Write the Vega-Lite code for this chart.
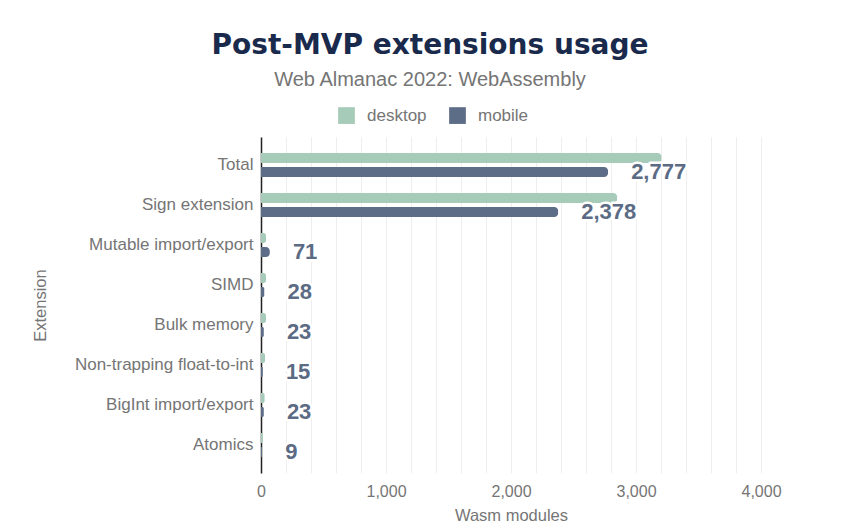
{
  "$schema": "https://vega.github.io/schema/vega-lite/v6.json",
  "width": 500,
  "height": 336,
  "autosize": {"type": "none"},
  "padding": {"left": 261, "top": 137, "right": 98, "bottom": 59},
  "background": "white",
  "title": {
    "text": "Post-MVP extensions usage",
    "subtitle": "Web Almanac 2022: WebAssembly",
    "anchor": "middle",
    "frame": "group",
    "dx": -81,
    "offset": 17,
    "font": "DejaVu Sans",
    "fontSize": 28,
    "fontWeight": "bold",
    "color": "#1a2a4c",
    "subtitleFont": "Liberation Sans",
    "subtitleFontSize": 20,
    "subtitleColor": "#757575",
    "subtitlePadding": 10
  },
  "data": {
    "values": [
      {"extension": "Total", "device": "desktop", "modules": 3205},
      {"extension": "Total", "device": "mobile", "modules": 2777},
      {"extension": "Sign extension", "device": "desktop", "modules": 2850},
      {"extension": "Sign extension", "device": "mobile", "modules": 2378},
      {"extension": "Mutable import/export", "device": "desktop", "modules": 40},
      {"extension": "Mutable import/export", "device": "mobile", "modules": 71},
      {"extension": "SIMD", "device": "desktop", "modules": 40},
      {"extension": "SIMD", "device": "mobile", "modules": 28},
      {"extension": "Bulk memory", "device": "desktop", "modules": 40},
      {"extension": "Bulk memory", "device": "mobile", "modules": 23},
      {"extension": "Non-trapping float-to-int", "device": "desktop", "modules": 32},
      {"extension": "Non-trapping float-to-int", "device": "mobile", "modules": 15},
      {"extension": "BigInt import/export", "device": "desktop", "modules": 30},
      {"extension": "BigInt import/export", "device": "mobile", "modules": 23},
      {"extension": "Atomics", "device": "desktop", "modules": 15},
      {"extension": "Atomics", "device": "mobile", "modules": 9}
    ]
  },
  "encoding": {
    "y": {
      "field": "extension",
      "type": "nominal",
      "sort": null,
      "scale": {"paddingInner": 0.4, "paddingOuter": 0.4},
      "axis": {
        "title": "Extension",
        "titleFont": "Liberation Sans",
        "titleFontSize": 16.5,
        "titleFontWeight": "normal",
        "titleColor": "#757575",
        "titlePadding": 26,
        "labelFont": "Liberation Sans",
        "labelFontSize": 17,
        "labelColor": "#757575",
        "labelPadding": 8,
        "ticks": false,
        "domainColor": "#222222",
        "domainWidth": 1.5,
        "grid": false
      }
    },
    "yOffset": {
      "field": "device",
      "type": "nominal",
      "scale": {"domain": ["desktop", "mobile"], "paddingInner": 0.3}
    },
    "x": {
      "field": "modules",
      "type": "quantitative",
      "scale": {"domain": [0, 4000], "nice": false},
      "axis": {
        "title": "Wasm modules",
        "titleFont": "Liberation Sans",
        "titleFontSize": 16.5,
        "titleFontWeight": "normal",
        "titleColor": "#757575",
        "titlePadding": 8,
        "labelFont": "Liberation Sans",
        "labelFontSize": 16,
        "labelColor": "#757575",
        "labelPadding": 10,
        "labelFlush": false,
        "values": [0, 200, 400, 600, 800, 1000, 1200, 1400, 1600, 1800, 2000, 2200, 2400, 2600, 2800, 3000, 3200, 3400, 3600, 3800, 4000],
        "labelExpr": "datum.value % 1000 === 0 ? format(datum.value, ',') : ''",
        "ticks": false,
        "domain": false,
        "grid": true,
        "gridColor": "#eeeeee",
        "gridWidth": 1
      }
    }
  },
  "layer": [
    {
      "mark": {"type": "bar", "cornerRadiusEnd": 4},
      "encoding": {
        "color": {
          "field": "device",
          "type": "nominal",
          "scale": {"domain": ["desktop", "mobile"], "range": ["#a7cbb9", "#5d6d87"]},
          "legend": {
            "title": null,
            "orient": "none",
            "direction": "horizontal",
            "legendX": 77,
            "legendY": -30,
            "symbolType": "square",
            "symbolSize": 280,
            "symbolStrokeWidth": 0,
            "labelFont": "Liberation Sans",
            "labelFontSize": 17,
            "labelColor": "#757575",
            "labelOffset": 12,
            "columnPadding": 22
          }
        }
      }
    },
    {
      "transform": [{"filter": "datum.device === 'mobile'"}],
      "mark": {
        "type": "text",
        "align": "left",
        "baseline": "middle",
        "dx": 23,
        "font": "Liberation Sans",
        "fontSize": 22,
        "fontWeight": "bold",
        "fill": "white",
        "stroke": "white",
        "strokeWidth": 5,
        "strokeJoin": "round"
      },
      "encoding": {"text": {"field": "modules", "type": "quantitative", "format": ","}}
    },
    {
      "transform": [{"filter": "datum.device === 'mobile'"}],
      "mark": {
        "type": "text",
        "align": "left",
        "baseline": "middle",
        "dx": 23,
        "font": "Liberation Sans",
        "fontSize": 22,
        "fontWeight": "bold",
        "fill": "#5c6b84"
      },
      "encoding": {"text": {"field": "modules", "type": "quantitative", "format": ","}}
    }
  ],
  "config": {"view": {"stroke": null}}
}
